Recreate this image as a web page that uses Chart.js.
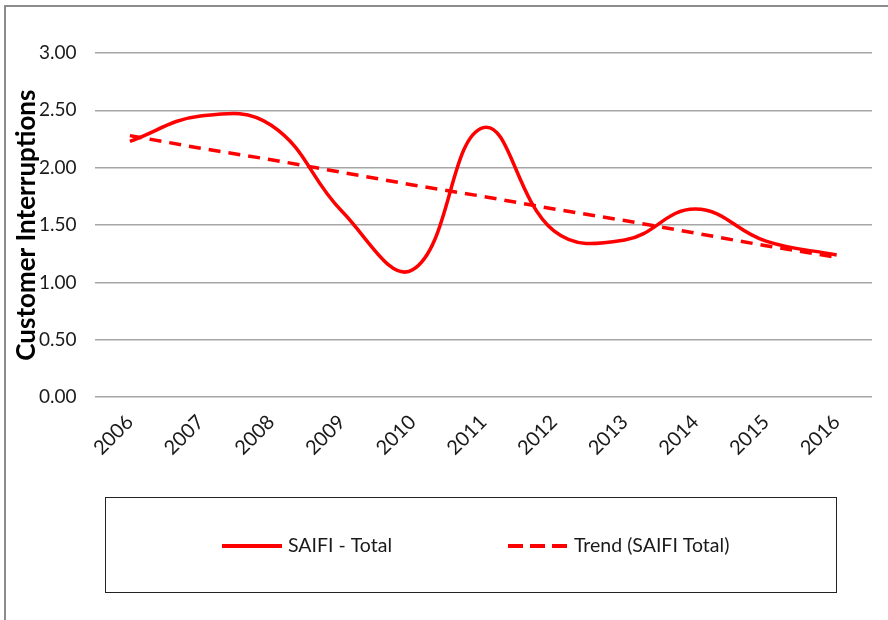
<!DOCTYPE html>
<html>
<head>
<meta charset="utf-8">
<script src="https://cdn.jsdelivr.net/npm/chart.js@4.4.1/dist/chart.umd.min.js"></script>
<style>
  html, body { margin: 0; padding: 0; background: #fff; }
  #wrap { width: 888px; height: 620px; position: relative; }
</style>
</head>
<body>
<div id="wrap"><canvas id="chart" width="888" height="620"></canvas></div>
<script>
const years = ['2006', '2007', '2008', '2009', '2010', '2011', '2012', '2013', '2014', '2015', '2016'];
const saifiTotal = [2.23, 2.45, 2.37, 1.62, 1.11, 2.35, 1.45, 1.37, 1.64, 1.36, 1.24];
const saifiTrend = [2.28, 2.17, 2.07, 1.96, 1.85, 1.75, 1.64, 1.54, 1.43, 1.32, 1.22];
const yTicks = [0, 0.5, 1, 1.5, 2, 2.5, 3];

const FONT = 'Lato, "Open Sans", sans-serif';
const RED = '#ff0000';

// grey frame (only top/left visible in the original) + boxed legend
const frameAndLegend = {
  id: 'frameAndLegend',
  beforeDraw(chart) {
    const ctx = chart.ctx;
    ctx.save();
    ctx.fillStyle = '#fff';
    ctx.fillRect(0, 0, chart.width, chart.height);
    ctx.strokeStyle = '#8c8c8c';
    ctx.lineWidth = 2;
    ctx.beginPath();
    ctx.moveTo(5, chart.height);
    ctx.lineTo(5, 6);
    ctx.lineTo(chart.width, 6);
    ctx.stroke();
    ctx.restore();
  },
  afterDraw(chart) {
    const ctx = chart.ctx;
    ctx.save();
    ctx.strokeStyle = '#222';
    ctx.lineWidth = 1;
    ctx.strokeRect(105.5, 497.5, 731, 95);

    ctx.font = '19.5px ' + FONT;
    ctx.fillStyle = '#1a1a1a';
    ctx.textBaseline = 'middle';
    let x = 222;
    const y = 546;
    chart.data.datasets.forEach(ds => {
      ctx.strokeStyle = ds.borderColor;
      ctx.lineWidth = 4;
      ctx.setLineDash(ds.borderDash ? [15, 7] : []);
      ctx.beginPath();
      ctx.moveTo(x, y);
      ctx.lineTo(x + 60, y);
      ctx.stroke();
      ctx.setLineDash([]);
      ctx.fillText(ds.label, x + 66, y);
      x += 66 + ctx.measureText(ds.label).width + 116;
    });
    ctx.restore();
  }
};

new Chart(document.getElementById('chart'), {
  type: 'line',
  data: {
    labels: years,
    datasets: [
      { label: 'SAIFI - Total', data: saifiTotal, borderColor: RED, borderWidth: 3.5, tension: 0.42, pointRadius: 0, fill: false },
      { label: 'Trend (SAIFI Total)', data: saifiTrend, borderColor: RED, borderWidth: 3.5, borderDash: [12, 8], tension: 0, pointRadius: 0, fill: false }
    ]
  },
  options: {
    responsive: false,
    animation: false,
    layout: { padding: { left: 14, right: 16, top: 53, bottom: 155 } },
    plugins: { legend: { display: false }, tooltip: { enabled: false } },
    scales: {
      x: {
        offset: true,
        grid: { display: false },
        border: { display: false },
        ticks: { color: '#1a1a1a', font: { family: FONT, size: 20 }, minRotation: 45, maxRotation: 45, padding: 5 }
      },
      y: {
        min: 0,
        max: 3,
        afterBuildTicks: axis => { axis.ticks = yTicks.map(v => ({ value: v })); },
        grid: { color: '#a6a6a6', lineWidth: 1.5, drawTicks: false },
        border: { display: false },
        ticks: { color: '#1a1a1a', font: { family: FONT, size: 19 }, padding: 18, callback: v => Number(v).toFixed(2) },
        title: { display: true, text: 'Customer Interruptions', color: '#000', font: { family: FONT, size: 26, weight: 'bold', lineHeight: 1 }, padding: { top: 0, bottom: -19 } }
      }
    }
  },
  plugins: [frameAndLegend]
});
</script>
</body>
</html>
